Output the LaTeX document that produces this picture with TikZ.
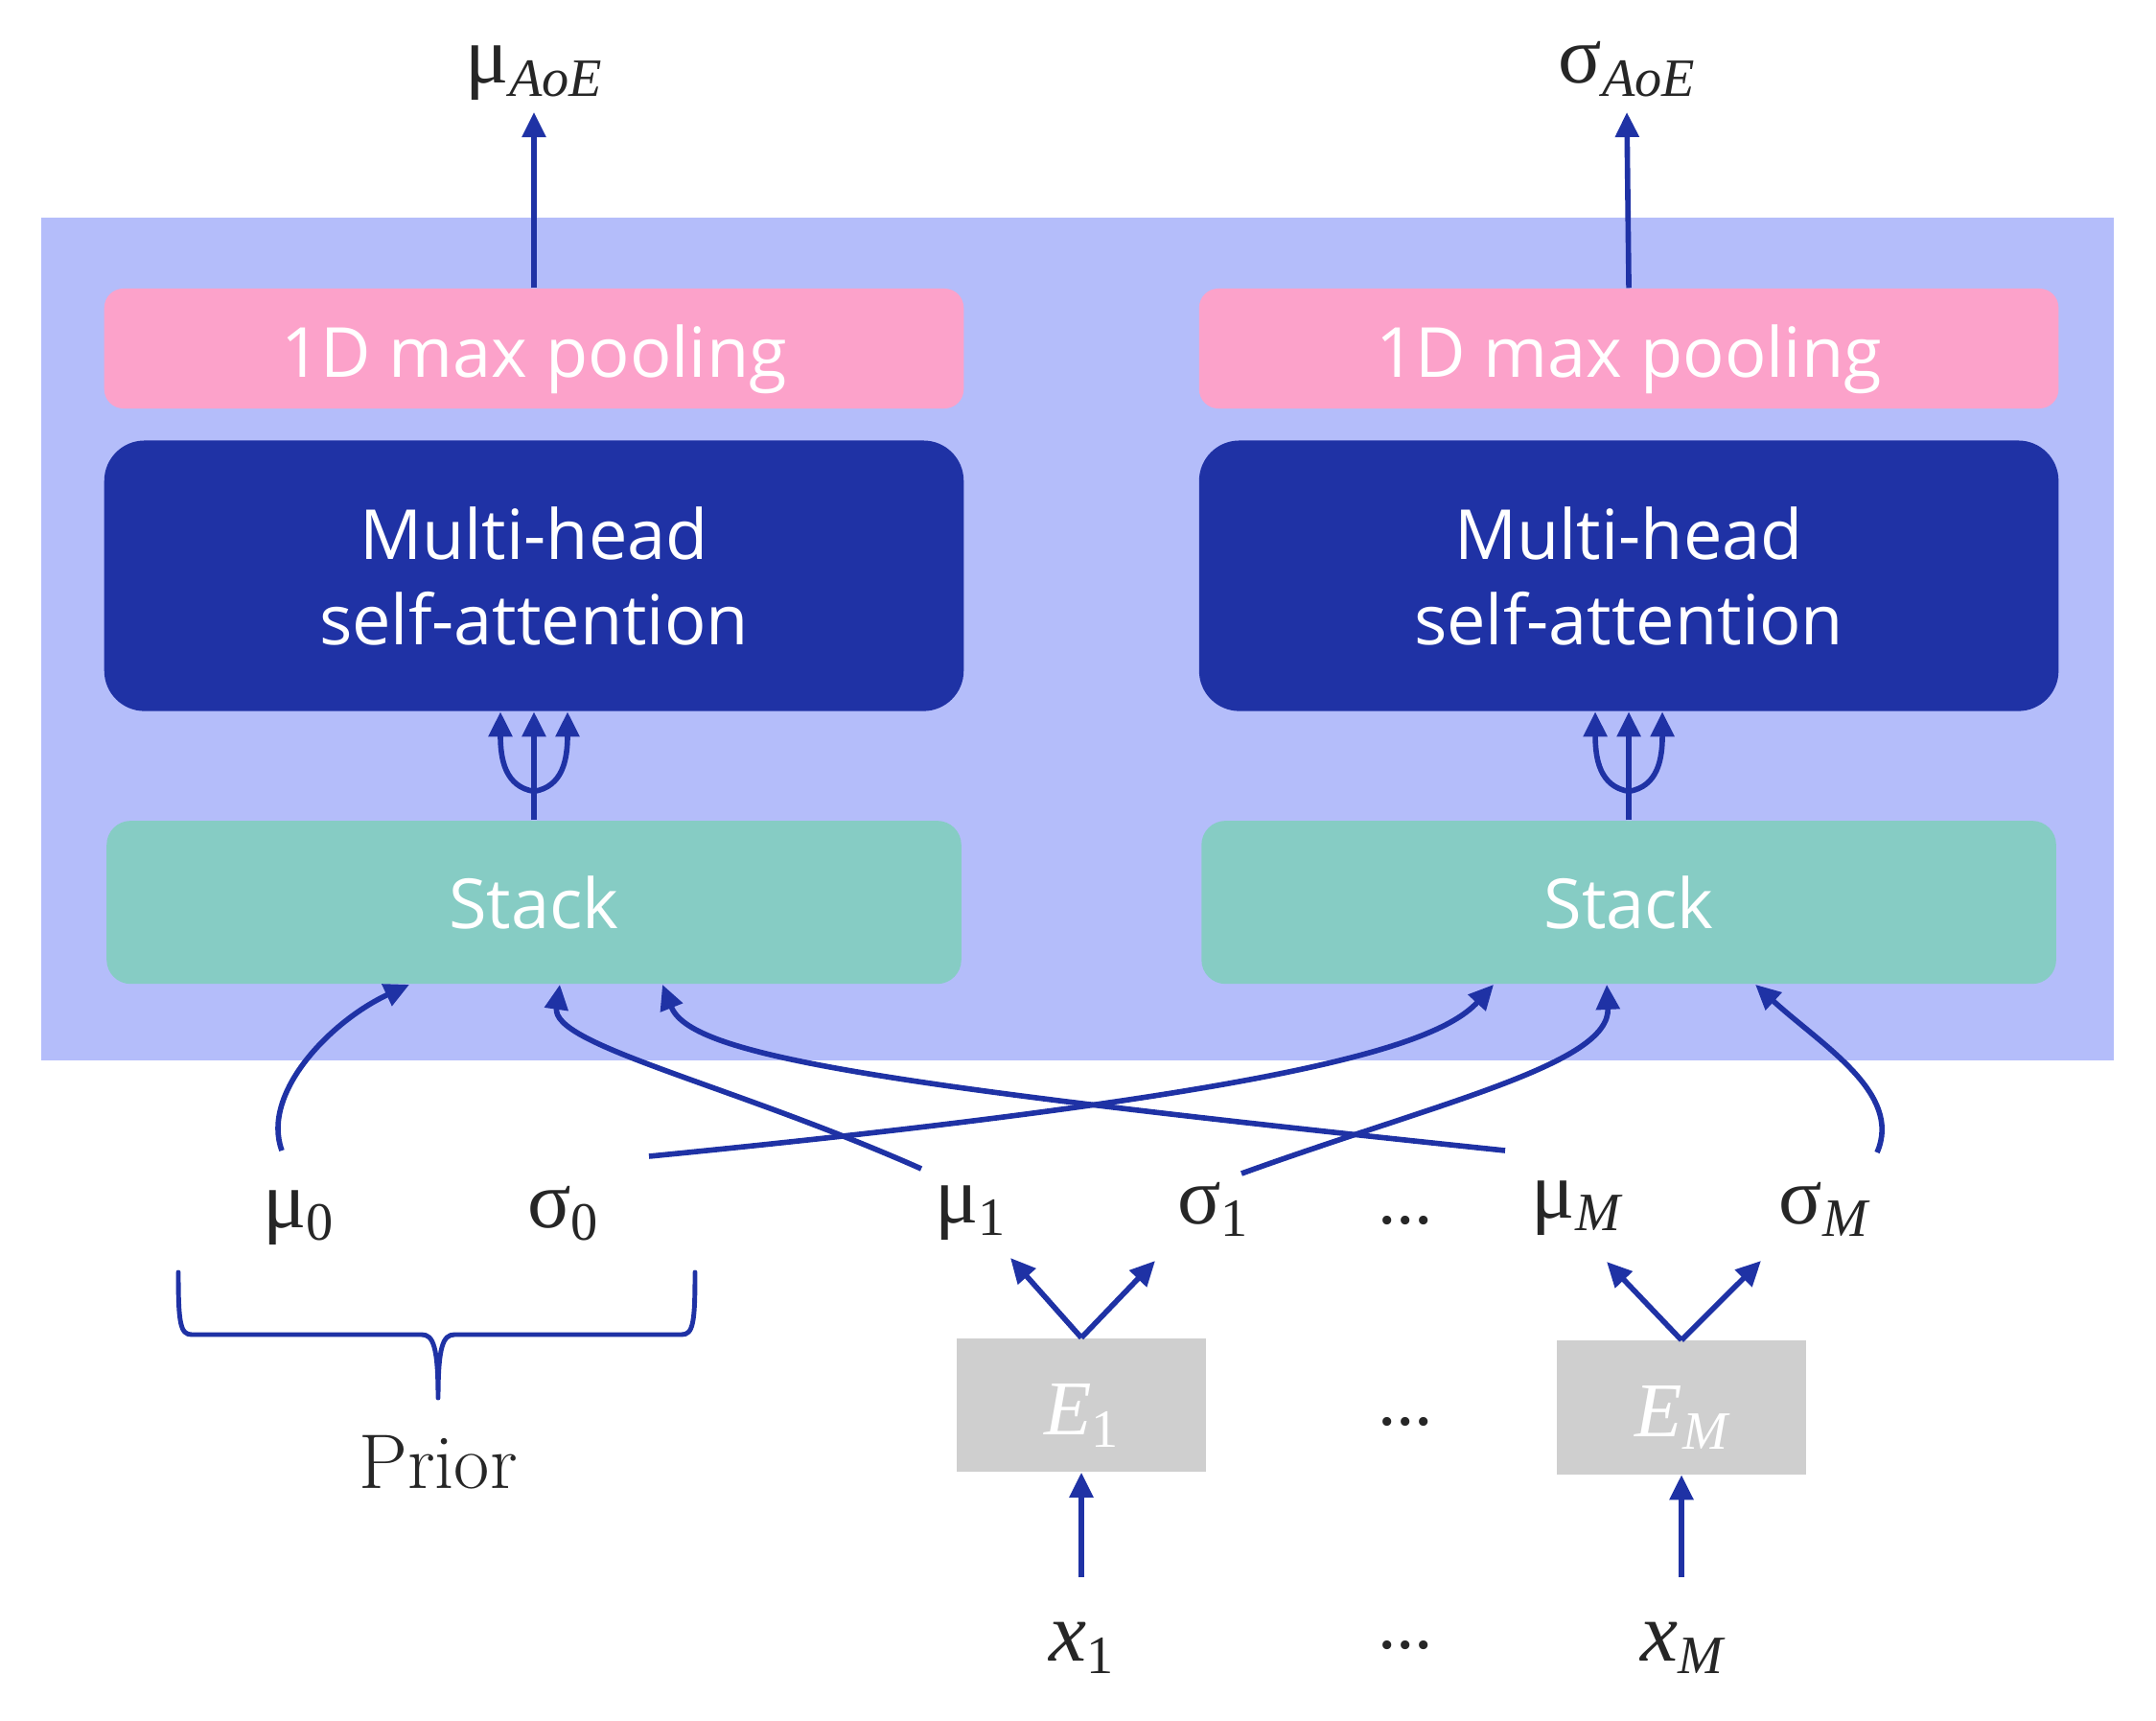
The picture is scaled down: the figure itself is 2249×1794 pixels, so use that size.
\documentclass[tikz,border=0pt]{standalone}
\usepackage{fontspec}
\usetikzlibrary{arrows.meta,positioning}
\newfontfamily\boxfont{Open Sans}
\newfontfamily\lblfont{Liberation Serif}
\definecolor{bgblue}{RGB}{180,189,250}
\definecolor{poolpink}{RGB}{252,162,202}
\definecolor{attnblue}{RGB}{31,50,165}
\definecolor{stackteal}{RGB}{134,204,196}
\definecolor{encgray}{RGB}{207,207,207}
\definecolor{inkgray}{RGB}{38,38,38}
\newcommand{\symlbl}[3][24]{{\fontsize{#1}{28}\selectfont #2}\raisebox{-0.13cm}{\fontsize{16}{19}\selectfont #3}}

\begin{document}
\begin{tikzpicture}
  [x=0.01cm, y=-0.01cm, node distance=0.32cm,
  arr/.style={-{Triangle[length=0.26cm,width=0.24cm]}, draw=attnblue, line width=1.6pt},
  block/.style={rectangle, inner sep=0pt, text=white, align=center,
    font=\boxfont\fontsize{20.5}{25.3}\selectfont},
  pool/.style={block, fill=poolpink, rounded corners=0.2cm,
    minimum width=8.96cm, minimum height=1.25cm, text height=0.59cm, text depth=0cm},
  attn/.style={block, fill=attnblue, rounded corners=0.42cm,
    minimum width=8.96cm, minimum height=2.82cm},
  stackbox/.style={block, fill=stackteal, rounded corners=0.25cm,
    minimum width=8.91cm, minimum height=1.70cm},
  enc/.style={rectangle, fill=encgray, inner sep=0pt, text=white,
    minimum width=2.6cm, minimum height=1.39cm,
    text height=0.61cm, text depth=0cm, font=\lblfont\itshape},
  sym/.style={anchor=base, inner sep=0pt, text=inkgray, font=\lblfont}]

  \useasboundingbox (0,0) rectangle (2249,1794);
  \fill[bgblue] (43,227) rectangle (2205,1106);

  % two attention columns
  \node[pool] (poolA) at (557,363.5)          {1D max pooling};
  \node[attn] (attnA) [below=of poolA]        {Multi-head\\self-attention};
  \node[stackbox] (stackA) [below=1.13cm of attnA] {Stack};
  \node[pool] (poolB) [right=2.44cm of poolA] {1D max pooling};
  \node[attn] (attnB) [below=of poolB]        {Multi-head\\self-attention};
  \node[stackbox] (stackB) [below=1.13cm of attnB] {Stack};

  % outputs
  \node[sym] (muAoE) at (557,87)   {\symlbl{μ}{\itshape AoE}};
  \node[sym] (sigAoE) at (1697,87) {\symlbl{σ}{\itshape AoE}};

  % inputs
  \node[sym] (mu0) at (311,1280)   {\symlbl{μ}{0}};
  \node[sym] (sig0) at (587,1280)  {\symlbl{σ}{0}};
  \node[sym] (mu1) at (1012,1275)  {\symlbl{μ}{1}};
  \node[sym] (sig1) at (1265,1276) {\symlbl{σ}{1}};
  \node[sym] (dotsA) at (1466,1276) {\fontsize{22}{26}\selectfont ...};
  \node[sym] (muM) at (1644,1270)  {\symlbl{μ}{\itshape M}};
  \node[sym] (sigM) at (1902,1276) {\symlbl{σ}{\itshape M}};

  \node[enc] (enc1) at (1128,1465.5) {\symlbl[23]{E}{\upshape 1}};
  \node[sym] (dotsB) at (1466,1486) {\fontsize{22}{26}\selectfont ...};
  \node[enc] (encM) at (1754,1468)   {\symlbl[23]{E}{M}};

  \node[sym] (x1) at (1128,1732)   {\symlbl[25]{\itshape x}{1}};
  \node[sym] (dotsC) at (1466,1719) {\fontsize{22}{26}\selectfont ...};
  \node[sym] (xM) at (1754,1732)   {\symlbl[25]{\itshape x}{\itshape M}};

  \node[anchor=base, inner sep=0pt, text=inkgray, font=\fontsize{23}{27}\selectfont]
    (prior) at (457,1552) {Prior};

  % prior brace
  \draw[attnblue, line width=1.4pt, line join=round, line cap=round]
    (186,1327) .. controls (186,1380) and (188,1392) .. (200,1392) -- (440,1392)
    .. controls (452,1392) and (457,1405) .. (457,1458)
    .. controls (457,1405) and (462,1392) .. (474,1392) -- (711,1392)
    .. controls (723,1392) and (725,1380) .. (725,1327);

  \draw[arr] (poolA.north) -- ([shift={(0,30)}]muAoE.base);
  \draw[arr] (poolB.north) -- ([shift={(0,30)}]sigAoE.base);

  \foreach \col in {A,B} {
    \coordinate (fork\col) at ([shift={(0,-30)}]stack\col.north);
    \draw[arr] (stack\col.north) -- (attn\col.south);
    \draw[arr] (fork\col) .. controls +(-30,-5) and +(0,50) .. ([shift={(-35,0)}]attn\col.south);
    \draw[arr] (fork\col) .. controls +(30,-5) and +(0,50) .. ([shift={(35,0)}]attn\col.south);
  }

  \draw[arr] ([shift={(0,-87)}]x1.base) -- (enc1.south);
  \draw[arr] ([shift={(0,-87)}]xM.base) -- (encM.south);
  \draw[arr] (enc1.north) -- ([shift={(42,37)}]mu1.base);
  \draw[arr] (enc1.north) -- ([shift={(-60,39)}]sig1.base);
  \draw[arr] (encM.north) -- ([shift={(32,46)}]muM.base);
  \draw[arr] (encM.north) -- ([shift={(-65,39)}]sigM.base);

  % means to the left stack, deviations to the right stack
  \draw[arr] ([shift={(-17,-80)}]mu0.base) .. controls (272,1140) and (345,1065) .. ([shift={(-130,0)}]stackA.south);
  \draw[arr] ([shift={(-51,-56)}]mu1.base) .. controls (760,1130) and (575,1090) .. ([shift={(27,0)}]stackA.south);
  \draw[arr] ([shift={(-74,-70)}]muM.base) .. controls (900,1130) and (720,1100) .. ([shift={(134,0)}]stackA.south);
  \draw[arr] ([shift={(90,-74)}]sig0.base) .. controls (1350,1140) and (1500,1090) .. ([shift={(-141,0)}]stackB.south);
  \draw[arr] ([shift={(30,-52)}]sig1.base) .. controls (1500,1150) and (1680,1110) .. ([shift={(-23,0)}]stackB.south);
  \draw[arr] ([shift={(56,-74)}]sigM.base) .. controls (1985,1140) and (1900,1090) .. ([shift={(132,0)}]stackB.south);

\end{tikzpicture}
\end{document}
